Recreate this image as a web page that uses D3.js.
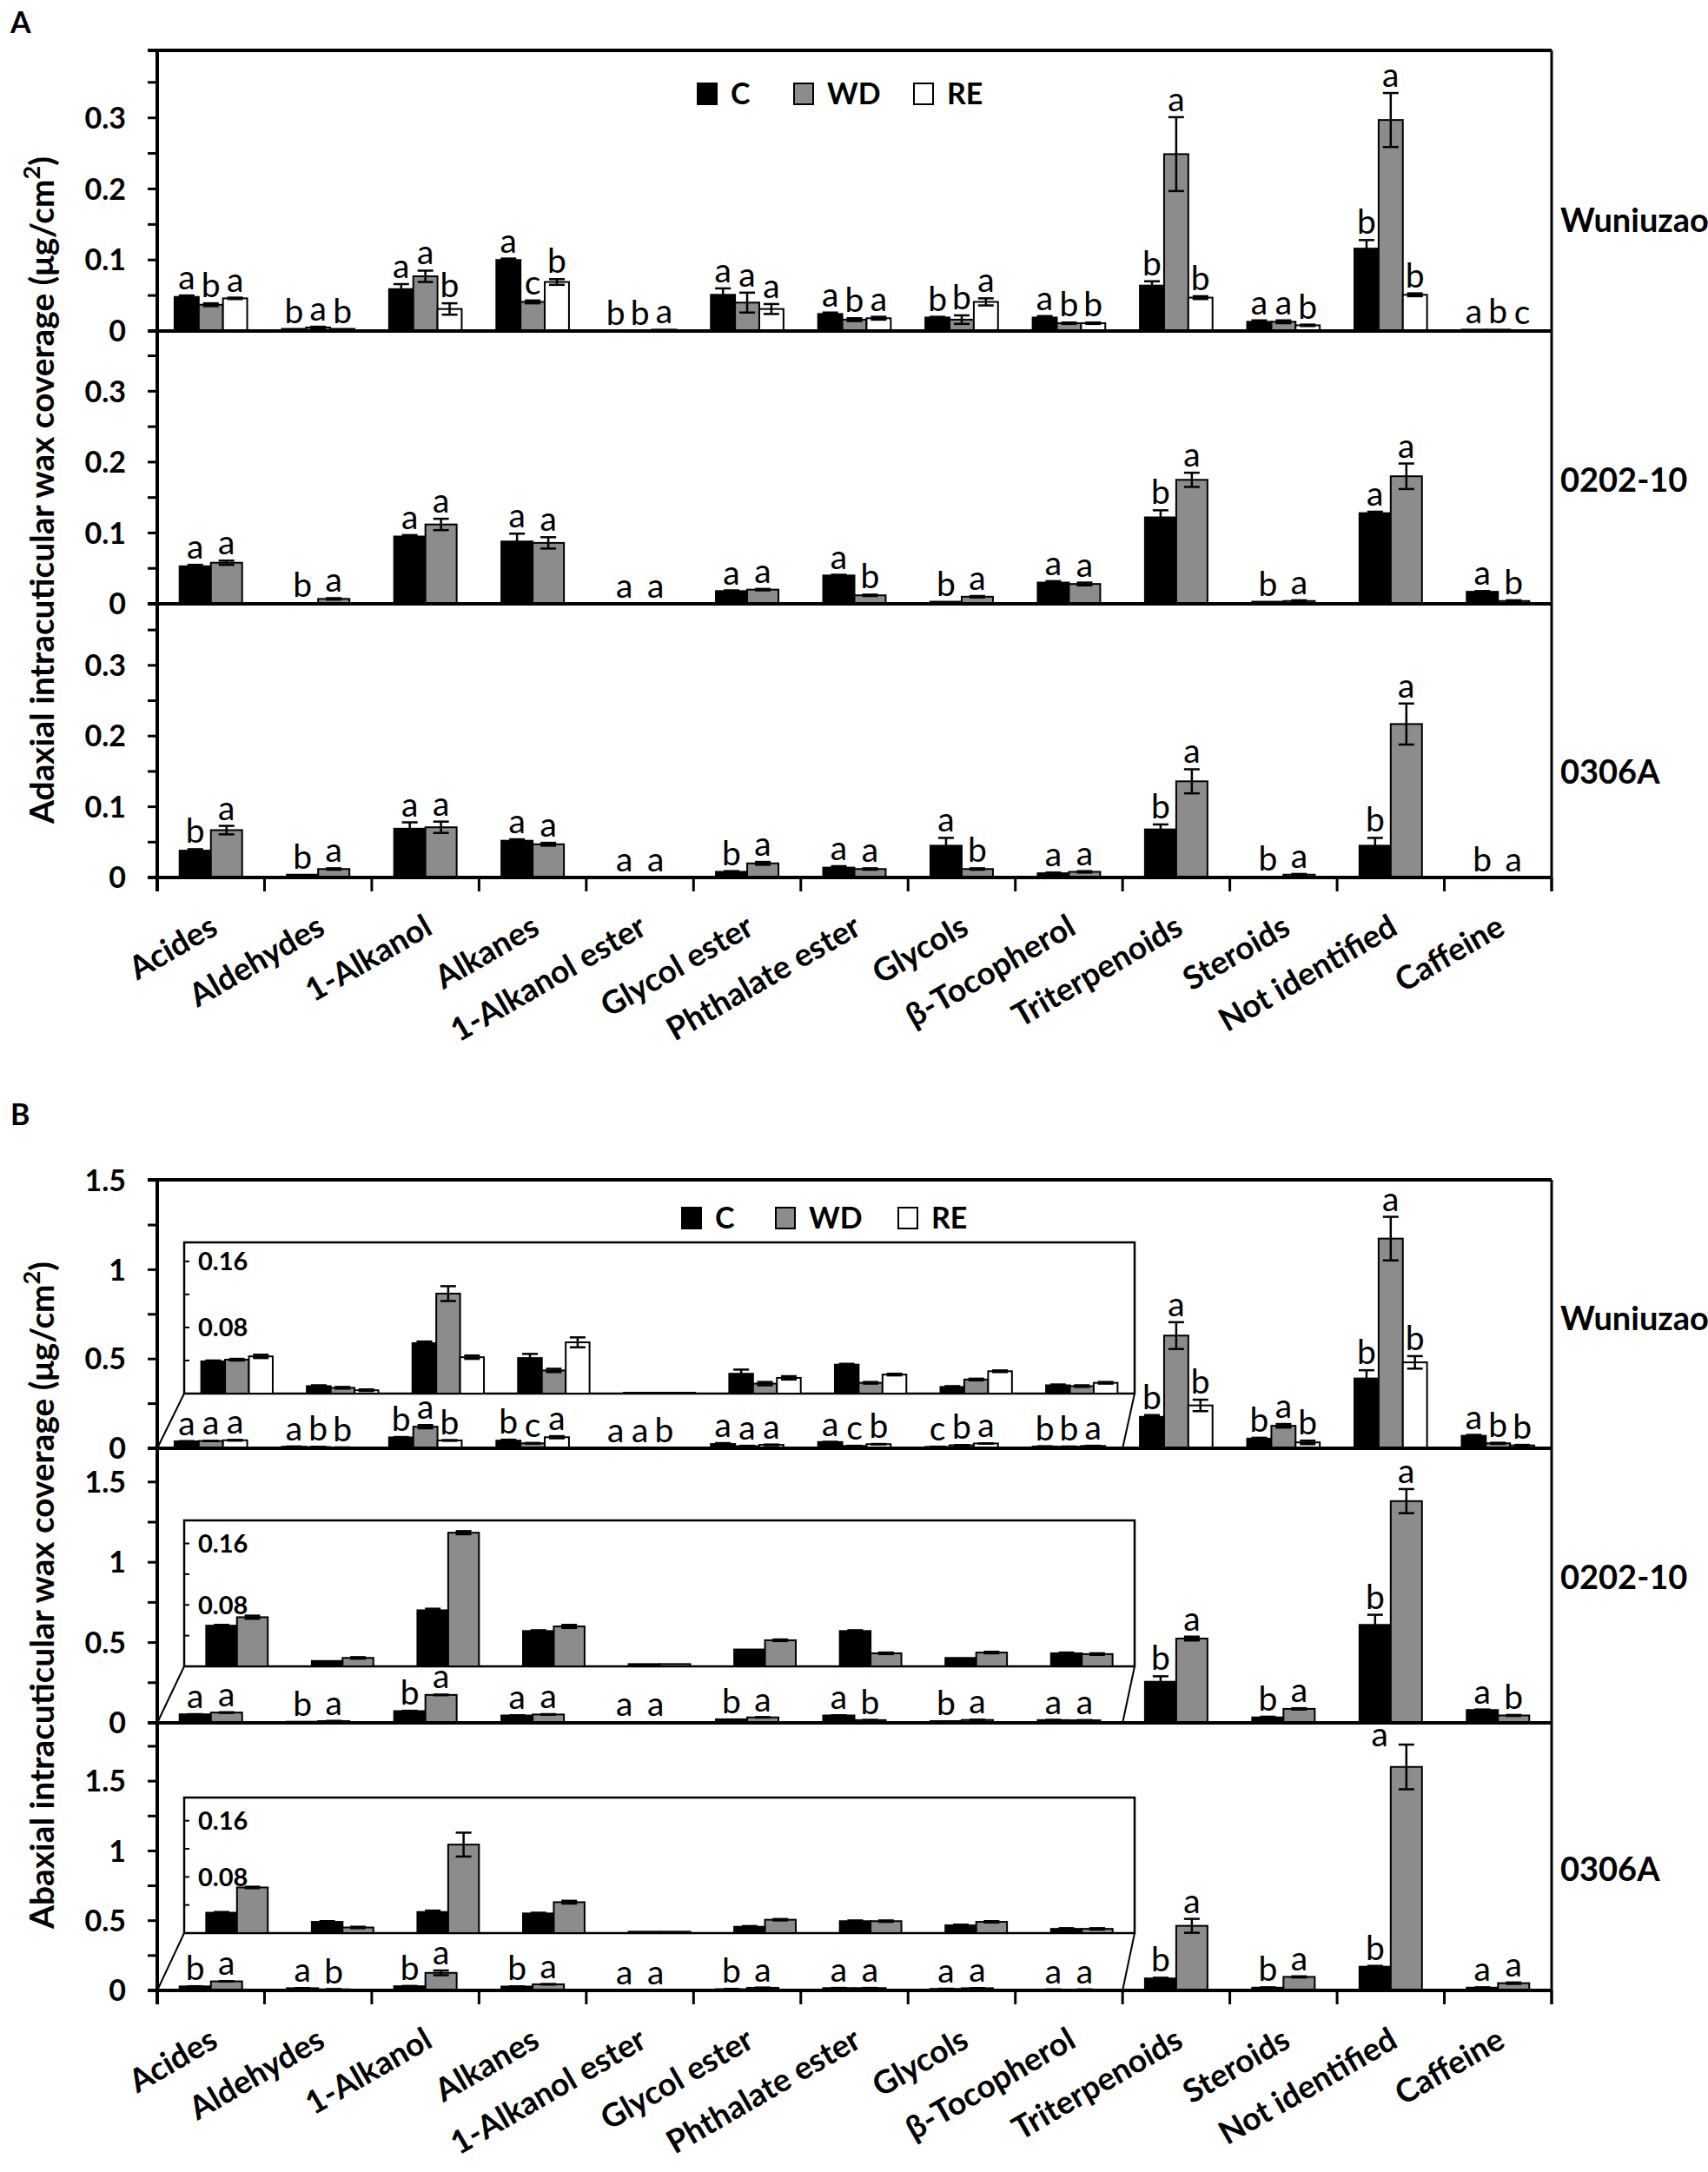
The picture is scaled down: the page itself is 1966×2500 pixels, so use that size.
<!DOCTYPE html>
<html>
<head>
<meta charset="utf-8">
<script src="https://cdn.jsdelivr.net/npm/d3@7"></script>
<style>
  body { margin: 0; background: #fff; }
  svg { display: block; }
  text { font-family: Lato, "Open Sans", sans-serif; fill: #000; }
</style>
</head>
<body>
<div id="chart"></div>
<script>
const categories = ['Acides', 'Aldehydes', '1-Alkanol', 'Alkanes', '1-Alkanol ester', 'Glycol ester',
  'Phthalate ester', 'Glycols', 'β-Tocopherol', 'Triterpenoids', 'Steroids', 'Not identified', 'Caffeine']
const treatments = ['C', 'WD', 'RE']
const cultivars = ['Wuniuzao', '0202-10', '0306A']
const insetCategories = categories.slice(0, 9)

// A - adaxial
const adWuniuzaoC = [0.048, 0.003, 0.059, 0.100, 0.000, 0.051, 0.024, 0.019, 0.019, 0.064, 0.013, 0.116, 0.002]
const adWuniuzaoWD = [0.037, 0.005, 0.077, 0.041, 0.000, 0.040, 0.016, 0.016, 0.011, 0.249, 0.013, 0.297, 0.002]
const adWuniuzaoRE = [0.046, 0.003, 0.031, 0.069, 0.002, 0.031, 0.018, 0.041, 0.011, 0.047, 0.008, 0.051, 0.001]
const adWuniuzaoErrC = [0.002, 0, 0.007, 0.002, 0, 0.009, 0.002, 0.001, 0.002, 0.006, 0.002, 0.012, 0]
const adWuniuzaoErrWD = [0.002, 0.001, 0.008, 0.002, 0, 0.014, 0.002, 0.006, 0.001, 0.052, 0.002, 0.038, 0]
const adWuniuzaoErrRE = [0.001, 0, 0.008, 0.004, 0, 0.007, 0.002, 0.005, 0.001, 0.002, 0.001, 0.002, 0]
const adWuniuzaoLetters = ['abaabaabababa', 'baacbabbbaaab', 'abbbaaaabbbbc']

const ad0202C = [0.053, 0.001, 0.095, 0.088, 0.000, 0.018, 0.040, 0.003, 0.030, 0.122, 0.003, 0.128, 0.017]
const ad0202WD = [0.058, 0.007, 0.112, 0.086, 0.000, 0.020, 0.012, 0.010, 0.028, 0.175, 0.004, 0.180, 0.004]
const ad0202ErrC = [0.002, 0, 0.002, 0.011, 0, 0.001, 0.001, 0, 0.002, 0.010, 0, 0.002, 0.001]
const ad0202ErrWD = [0.003, 0.001, 0.008, 0.008, 0, 0.001, 0.001, 0.001, 0.002, 0.010, 0.001, 0.018, 0.001]
const ad0202Letters = ['abaaaaababbaa', 'aaaaaabaaaaab']

const ad0306C = [0.038, 0.004, 0.069, 0.052, 0.000, 0.008, 0.014, 0.045, 0.006, 0.068, 0.001, 0.045, 0.000]
const ad0306WD = [0.067, 0.012, 0.071, 0.047, 0.000, 0.020, 0.012, 0.012, 0.008, 0.136, 0.004, 0.217, 0.000]
const ad0306ErrC = [0.002, 0, 0.009, 0.002, 0, 0.001, 0.002, 0.011, 0.001, 0.007, 0, 0.011, 0]
const ad0306ErrWD = [0.006, 0.001, 0.008, 0.002, 0, 0.002, 0.001, 0.001, 0.001, 0.017, 0.001, 0.029, 0]
const ad0306Letters = ['bbaaabaaabbbb', 'aaaaaaabaaaaa']

// B - abaxial
const abWuniuzaoC = [0.039, 0.009, 0.061, 0.043, 0.001, 0.024, 0.035, 0.008, 0.010, 0.176, 0.054, 0.391, 0.070]
const abWuniuzaoWD = [0.041, 0.007, 0.121, 0.028, 0.001, 0.012, 0.013, 0.017, 0.009, 0.631, 0.126, 1.174, 0.028]
const abWuniuzaoRE = [0.045, 0.004, 0.044, 0.062, 0.001, 0.019, 0.023, 0.027, 0.013, 0.240, 0.033, 0.481, 0.016]
const abWuniuzaoErrC = [0.001, 0.001, 0.002, 0.005, 0, 0.005, 0.001, 0.001, 0.001, 0.010, 0.005, 0.046, 0.005]
const abWuniuzaoErrWD = [0.001, 0.001, 0.009, 0.002, 0, 0.002, 0.001, 0.001, 0.001, 0.075, 0.010, 0.122, 0.003]
const abWuniuzaoErrRE = [0.002, 0.001, 0.002, 0.006, 0, 0.002, 0.001, 0.001, 0.001, 0.032, 0.010, 0.035, 0.003]
const abWuniuzaoLetters = ['aabbaaacbbbba', 'abacaacbbaaab', 'abbababaabbbb']

const ab0202C = [0.053, 0.007, 0.073, 0.046, 0.003, 0.022, 0.046, 0.011, 0.017, 0.256, 0.034, 0.610, 0.080]
const ab0202WD = [0.064, 0.011, 0.174, 0.052, 0.003, 0.034, 0.017, 0.018, 0.016, 0.525, 0.087, 1.381, 0.046]
const ab0202ErrC = [0.001, 0, 0.002, 0.001, 0, 0, 0.001, 0, 0.001, 0.034, 0.004, 0.063, 0.003]
const ab0202ErrWD = [0.002, 0.001, 0.002, 0.002, 0, 0.001, 0.001, 0.001, 0.001, 0.012, 0.004, 0.075, 0.003]
const ab0202Letters = ['abbaabababbba', 'aaaaaabaaaaab']

const ab0306C = [0.029, 0.016, 0.030, 0.028, 0.002, 0.009, 0.017, 0.011, 0.006, 0.086, 0.020, 0.170, 0.020]
const ab0306WD = [0.065, 0.008, 0.126, 0.044, 0.002, 0.019, 0.017, 0.016, 0.006, 0.463, 0.097, 1.602, 0.052]
const ab0306ErrC = [0.001, 0.001, 0.002, 0.001, 0, 0.001, 0.001, 0.001, 0.001, 0.005, 0.002, 0.006, 0.002]
const ab0306ErrWD = [0.001, 0.001, 0.017, 0.002, 0, 0.001, 0.001, 0.001, 0.001, 0.050, 0.004, 0.160, 0.005]
const ab0306Letters = ['babbabaaabbba', 'abaaaaaaaaaaa']

const W = 1966
const H = 2500
const plotLeft = 181
const plotRight = 1786
const gapWidth = 1.43 // excel-like gap between groups
const fills = { C: '#000', WD: '#8c8c8c', RE: '#fff' }

const figures = [
  {
    label: 'A', labelY: 26, title: 'Adaxial intracuticular wax coverage', titleY: 564,
    top: 58, zeros: [381, 695, 1010], yMax: [0.395, 0.385, 0.387],
    tickStep: 0.05, labelStep: 0.1, tickMax: 0.35, labelMax: 0.3,
    legendX: [803, 914, 1052], legendY: 108, nameY: [253, 552, 888],
    panels: [
      { values: [adWuniuzaoC, adWuniuzaoWD, adWuniuzaoRE], errors: [adWuniuzaoErrC, adWuniuzaoErrWD, adWuniuzaoErrRE], letters: adWuniuzaoLetters },
      { values: [ad0202C, ad0202WD], errors: [ad0202ErrC, ad0202ErrWD], letters: ad0202Letters },
      { values: [ad0306C, ad0306WD], errors: [ad0306ErrC, ad0306ErrWD], letters: ad0306Letters }
    ]
  },
  {
    label: 'B', labelY: 1283, title: 'Abaxial intracuticular wax coverage', titleY: 1836,
    top: 1358, zeros: [1667, 1983, 2291], yMax: [1.503, 1.71, 1.918],
    tickStep: 0.25, labelStep: 0.5, tickMax: 1.75, labelMax: 1.5,
    legendX: [785, 893, 1034], legendY: 1402, nameY: [1517, 1815, 2151],
    inset: { left: 212, right: 1306, tops: [1430, 1750, 2069], bottoms: [1604, 1918, 2225], yMax: [0.183, 0.19, 0.193] },
    panels: [
      { values: [abWuniuzaoC, abWuniuzaoWD, abWuniuzaoRE], errors: [abWuniuzaoErrC, abWuniuzaoErrWD, abWuniuzaoErrRE], letters: abWuniuzaoLetters },
      { values: [ab0202C, ab0202WD], errors: [ab0202ErrC, ab0202ErrWD], letters: ab0202Letters },
      { values: [ab0306C, ab0306WD], errors: [ab0306ErrC, ab0306ErrWD], letters: ab0306Letters }
    ]
  }
]

const svg = d3.select('#chart').append('svg')
  .attr('width', W).attr('height', H)
  .attr('viewBox', `0 0 ${W} ${H}`)

const x = d3.scaleBand().domain(categories).range([plotLeft, plotRight])
const fmt = v => String(+v.toFixed(2))

function subScale (band, series) {
  const bw = band.bandwidth()
  const gw = bw * series.length / (series.length + gapWidth)
  return d3.scaleBand().domain(series).range([(bw - gw) / 2, (bw + gw) / 2])
}

// bars + error bars (+ letters) for one panel on given scales
function drawBars (g, xs, y, panel, cats, letters, top) {
  const series = treatments.slice(0, panel.values.length)
  const xSub = subScale(xs, series)
  const rows = []
  cats.forEach(cat => {
    const k = categories.indexOf(cat)
    series.forEach((s, j) => {
      rows.push({ cat, s, v: panel.values[j][k], e: panel.errors[j][k], l: panel.letters[j][k] })
    })
  })
  const bw = xSub.bandwidth()
  const cx = d => xs(d.cat) + xSub(d.s) + bw / 2

  g.selectAll(null).data(rows).enter().append('rect')
    .attr('x', d => xs(d.cat) + xSub(d.s))
    .attr('width', bw)
    .attr('y', d => y(d.v))
    .attr('height', d => y(0) - y(d.v))
    .attr('fill', d => fills[d.s])
    .attr('stroke', '#000')
    .attr('stroke-width', 2)

  const eb = g.selectAll(null).data(rows.filter(d => d.e > 0)).enter().append('g')
    .attr('stroke', '#000').attr('stroke-width', 2.5)
  eb.append('line')
    .attr('x1', cx).attr('x2', cx)
    .attr('y1', d => y(Math.max(0, d.v - d.e))).attr('y2', d => y(d.v + d.e))
  eb.append('line')
    .attr('x1', d => cx(d) - 9).attr('x2', d => cx(d) + 9)
    .attr('y1', d => y(d.v + d.e)).attr('y2', d => y(d.v + d.e))
  eb.append('line')
    .attr('x1', d => cx(d) - 9).attr('x2', d => cx(d) + 9)
    .attr('y1', d => y(Math.max(0, d.v - d.e))).attr('y2', d => y(Math.max(0, d.v - d.e)))

  if (!letters) return
  g.selectAll(null).data(rows).enter().append('text')
    .attr('text-anchor', 'middle')
    .attr('font-size', 39)
    .each(function (d) {
      let ty = y(d.v + d.e) - 7
      let tx = cx(d)
      if (ty - 28 < top) { ty = y(d.v + d.e) + 2; tx -= bw * 0.85 }
      d3.select(this).attr('x', tx).attr('y', ty)
    })
    .text(d => d.l)
}

figures.forEach(fig => {
  const g = svg.append('g')

  fig.panels.forEach((panel, i) => {
    const top = i === 0 ? fig.top : fig.zeros[i - 1]
    const zero = fig.zeros[i]
    const y = d3.scaleLinear().domain([0, fig.yMax[i]]).range([zero, top])

    drawBars(g, x, y, panel, categories, true, top)

    // zoomed inset for the small classes
    if (fig.inset) {
      const ins = fig.inset
      const xi = d3.scaleBand().domain(insetCategories).range([ins.left, ins.right])
      const yi = d3.scaleLinear().domain([0, ins.yMax[i]]).range([ins.bottoms[i], ins.tops[i]])
      const gi = g.append('g')
      gi.append('line')
        .attr('x1', ins.left).attr('y1', ins.bottoms[i]).attr('x2', plotLeft).attr('y2', zero)
        .attr('stroke', '#000').attr('stroke-width', 2)
      gi.append('line')
        .attr('x1', ins.right).attr('y1', ins.bottoms[i])
        .attr('x2', x(insetCategories[insetCategories.length - 1]) + x.bandwidth()).attr('y2', zero)
        .attr('stroke', '#000').attr('stroke-width', 2)
      gi.append('rect')
        .attr('x', ins.left).attr('y', ins.tops[i])
        .attr('width', ins.right - ins.left).attr('height', ins.bottoms[i] - ins.tops[i])
        .attr('fill', '#fff').attr('stroke', '#000').attr('stroke-width', 2.5)
      drawBars(gi, xi, yi, panel, insetCategories, false, ins.tops[i])
      const iticks = d3.range(0, 0.161, 0.04)
      gi.selectAll(null).data(iticks).enter().append('line')
        .attr('x1', ins.left).attr('x2', ins.left + 6)
        .attr('y1', d => yi(d)).attr('y2', d => yi(d))
        .attr('stroke', '#000').attr('stroke-width', 2)
      gi.selectAll(null).data([0.08, 0.16]).enter().append('text')
        .attr('x', ins.left + 16).attr('y', d => yi(d))
        .attr('dy', '0.36em')
        .attr('font-size', 29).attr('font-weight', 700)
        .text(fmt)
    }

    // y axis ticks and labels
    const ticks = d3.range(0, fig.tickMax + 1e-9, fig.tickStep).filter(v => v <= fig.yMax[i] + 1e-9)
    g.selectAll(null).data(ticks).enter().append('line')
      .attr('x1', plotLeft - 11).attr('x2', plotLeft)
      .attr('y1', d => y(d)).attr('y2', d => y(d))
      .attr('stroke', '#000').attr('stroke-width', 3)
    const labels = ticks.filter(v => Math.abs(v / fig.labelStep - Math.round(v / fig.labelStep)) < 1e-6 && v <= fig.labelMax + 1e-9)
    g.selectAll(null).data(labels).enter().append('text')
      .attr('x', plotLeft - 36).attr('y', d => y(d))
      .attr('dy', '0.36em')
      .attr('text-anchor', 'end')
      .attr('font-size', 34).attr('font-weight', 700)
      .text(fmt)

    // zero line of the panel
    g.append('line')
      .attr('x1', plotLeft - 11).attr('x2', plotRight)
      .attr('y1', zero).attr('y2', zero)
      .attr('stroke', '#000').attr('stroke-width', 4)

    g.append('text')
      .attr('x', plotRight + 10).attr('y', fig.nameY[i])
      .attr('dy', '0.36em')
      .attr('font-size', 38).attr('font-weight', 700)
      .text(cultivars[i])
  })

  const bottom = fig.zeros[fig.zeros.length - 1]
  // frame
  g.append('line').attr('x1', plotLeft - 11).attr('x2', plotRight).attr('y1', fig.top).attr('y2', fig.top)
    .attr('stroke', '#000').attr('stroke-width', 4)
  g.append('line').attr('x1', plotLeft).attr('x2', plotLeft).attr('y1', fig.top).attr('y2', bottom + 16)
    .attr('stroke', '#000').attr('stroke-width', 4)
  g.append('line').attr('x1', plotRight).attr('x2', plotRight).attr('y1', fig.top).attr('y2', bottom + 16)
    .attr('stroke', '#000').attr('stroke-width', 3)

  // category ticks on the bottom axis
  const bounds = categories.map(c => x(c)).concat([plotRight])
  g.selectAll(null).data(bounds).enter().append('line')
    .attr('x1', d => d).attr('x2', d => d)
    .attr('y1', bottom).attr('y2', bottom + 16)
    .attr('stroke', '#000').attr('stroke-width', 3)

  g.selectAll(null).data(categories).enter().append('text')
    .attr('transform', d => `translate(${x(d) + x.bandwidth() / 2 + 10},${bottom + 64}) rotate(-30)`)
    .attr('text-anchor', 'end')
    .attr('font-size', 37).attr('font-weight', 700)
    .text(d => d)

  // legend
  const lg = g.selectAll(null).data(treatments).enter().append('g')
    .attr('transform', (d, i) => `translate(${fig.legendX[i]},${fig.legendY})`)
  lg.append('rect')
    .attr('x', 0).attr('y', -12).attr('width', 22).attr('height', 24)
    .attr('fill', d => fills[d]).attr('stroke', '#000').attr('stroke-width', 2)
  lg.append('text')
    .attr('x', 38).attr('dy', '0.36em')
    .attr('font-size', 34).attr('font-weight', 700)
    .text(d => d)

  // y title, fitted to the span it has in the figure
  const title = g.append('text')
    .attr('transform', `translate(48,${fig.titleY}) rotate(-90)`)
    .attr('text-anchor', 'middle')
    .attr('dy', '0.36em')
    .attr('font-size', 32).attr('font-weight', 700)
  title.append('tspan').text(fig.title + ' (μg/cm')
  title.append('tspan').attr('baseline-shift', 'super').attr('font-size', '70%').text('2')
  title.append('tspan').text(')')
  const len = title.node().getComputedTextLength()
  title.attr('font-size', 32 * 768 / len)

  g.append('text')
    .attr('x', 12).attr('y', fig.labelY).attr('dy', '0.36em')
    .attr('font-size', 34).attr('font-weight', 700)
    .text(fig.label)
})
</script>
</body>
</html>
